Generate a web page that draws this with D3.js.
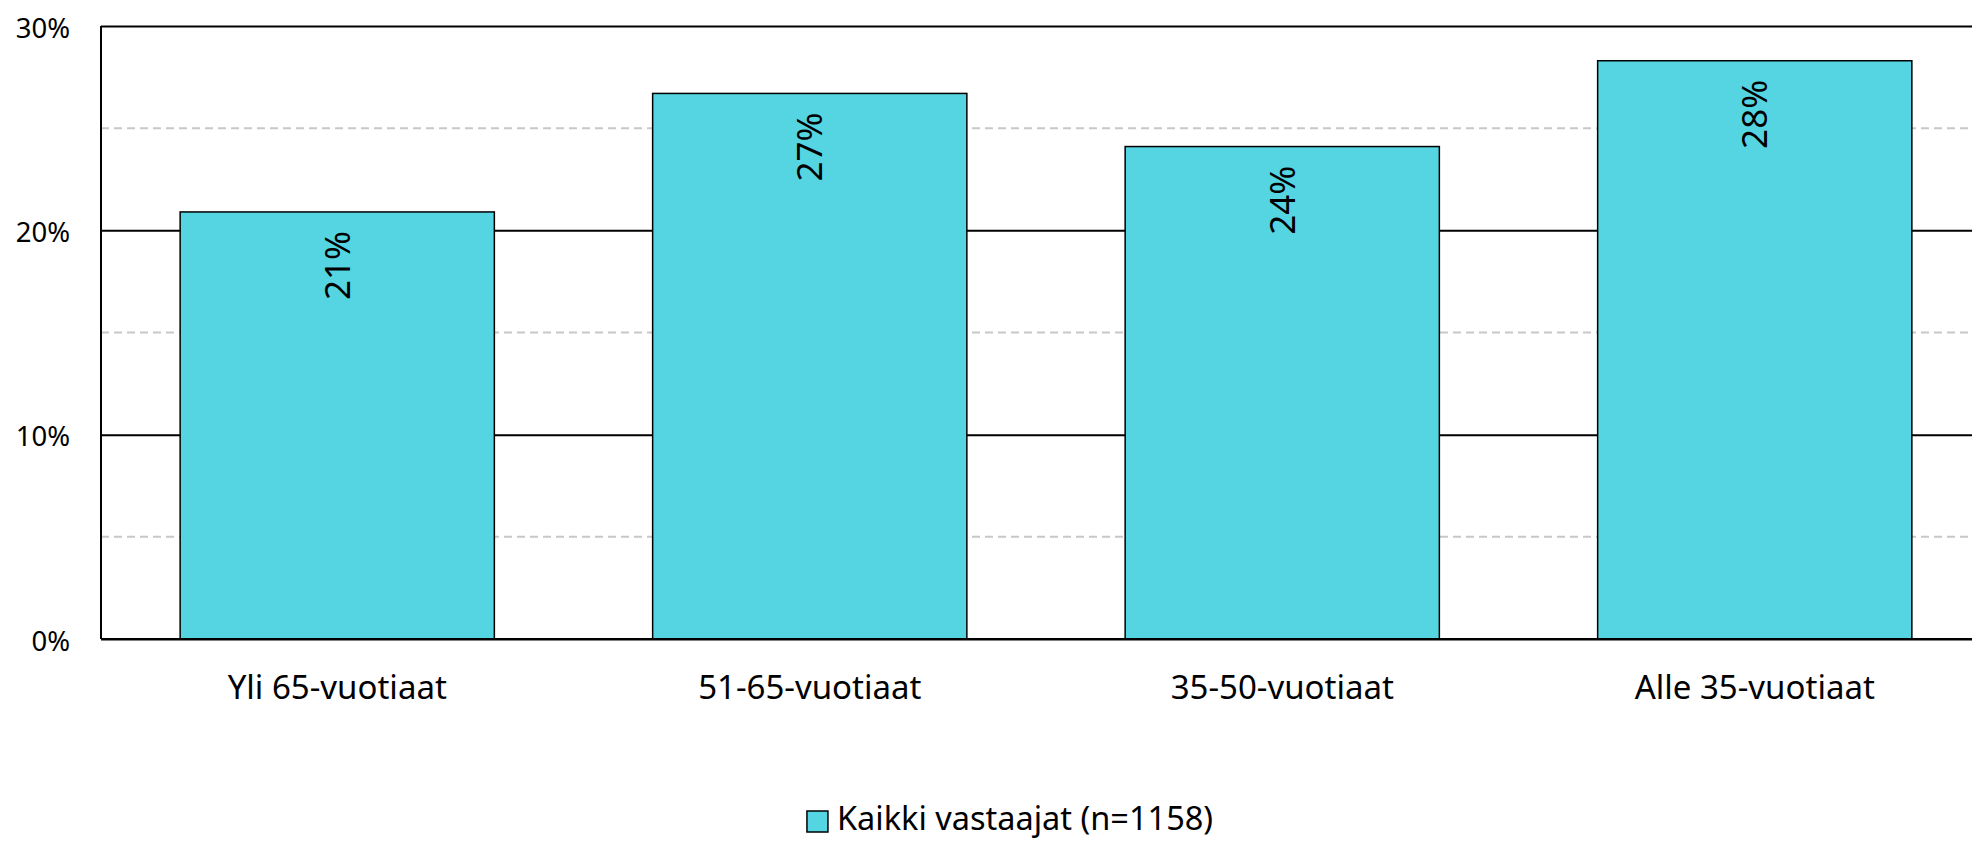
<!DOCTYPE html>
<html>
<head>
<meta charset="utf-8">
<script src="https://cdn.jsdelivr.net/npm/d3@7"></script>
<style>
  body { margin: 0; background: #fff; overflow: hidden; }
  text { font-family: "Noto Sans", "Open Sans", sans-serif; fill: #000; }
</style>
</head>
<body>
<div id="chart"></div>
<script>
// Data
var categories = ["Yli 65-vuotiaat", "51-65-vuotiaat", "35-50-vuotiaat", "Alle 35-vuotiaat"]
var values = [0.209, 0.267, 0.241, 0.283]
var valueLabels = ["21%", "27%", "24%", "28%"]
var majorTicks = [0, 0.1, 0.2, 0.3]
var minorTicks = [0.05, 0.15, 0.25]
var seriesName = "Kaikki vastaajat (n=1158)"

const width = 1972
const height = 842
const margin = { top: 26, left: 101 }
const plotRight = 1991
const plotBottom = 639

var svg = d3.select('#chart')
  .append('svg')
  .attr('width', width)
  .attr('height', height)

var x = d3.scaleBand()
  .domain(categories)
  .range([margin.left, plotRight])
  .paddingInner(0.335)
  .paddingOuter(0.1675)

var y = d3.scaleLinear()
  .domain([0, 0.3])
  .range([plotBottom, margin.top])

var barColor = '#55d5e2'

// dashed minor gridlines
svg.append('g')
  .selectAll('line')
  .data(minorTicks)
  .enter().append('line')
    .attr('x1', margin.left)
    .attr('x2', plotRight)
    .attr('y1', d => y(d))
    .attr('y2', d => y(d))
    .attr('stroke', '#c8c8c8')
    .attr('stroke-width', 2)
    .attr('stroke-dasharray', '8,5')

// solid major gridlines + y labels via axis
var yAxis = d3.axisLeft(y)
  .tickValues(majorTicks)
  .tickFormat(d3.format('.0%'))
  .tickSize(-(plotRight - margin.left))
  .tickPadding(31)

svg.append('g')
  .attr('transform', 'translate(' + margin.left + ',0)')
  .call(yAxis)
  .call(g => g.select('.domain').remove())
  .call(g => g.selectAll('.tick line').attr('stroke', '#000').attr('stroke-width', 2))
  .call(g => g.selectAll('.tick text')
    .attr('font-size', 27.5)
    .attr('font-family', '"Noto Sans", sans-serif')
    .attr('fill', '#000')
    .attr('dy', '0.4em'))

// left axis line
svg.append('line')
  .attr('x1', margin.left).attr('x2', margin.left)
  .attr('y1', y(0.3)).attr('y2', y(0))
  .attr('stroke', '#000')
  .attr('stroke-width', 2)

// bars
svg.append('g')
  .selectAll('rect')
  .data(values)
  .enter().append('rect')
    .attr('x', (d, i) => x(categories[i]))
    .attr('y', d => y(d))
    .attr('width', x.bandwidth())
    .attr('height', d => y(0) - y(d))
    .attr('fill', barColor)
    .attr('stroke', '#000')
    .attr('stroke-width', 1.5)

// baseline on top of bars
svg.append('line')
  .attr('x1', margin.left).attr('x2', plotRight)
  .attr('y1', y(0)).attr('y2', y(0))
  .attr('stroke', '#000')
  .attr('stroke-width', 2)

// rotated value labels at the top inside bars
svg.append('g')
  .selectAll('text')
  .data(values)
  .enter().append('text')
    .attr('transform', (d, i) => 'translate(' + (x(categories[i]) + x.bandwidth() / 2) + ',' + (y(d) + 19) + ') rotate(-90)')
    .attr('text-anchor', 'end')
    .attr('dy', '0.35em')
    .attr('font-size', 35)
    .text((d, i) => valueLabels[i])

// x category labels
var xAxis = d3.axisBottom(x).tickSize(0).tickPadding(37)
svg.append('g')
  .attr('transform', 'translate(0,' + plotBottom + ')')
  .call(xAxis)
  .call(g => g.select('.domain').remove())
  .call(g => g.selectAll('.tick text')
    .attr('font-size', 33)
    .attr('font-family', '"Noto Sans", sans-serif')
    .attr('fill', '#000'))

// legend
var legend = svg.append('g')
var legendText = legend.append('text')
  .attr('x', 30)
  .attr('y', 830)
  .attr('font-size', 32.5)
  .text(seriesName)
var tw = legendText.node().getComputedTextLength()
legend.append('rect')
  .attr('x', 0)
  .attr('y', 811)
  .attr('width', 21)
  .attr('height', 21)
  .attr('fill', barColor)
  .attr('stroke', '#000')
  .attr('stroke-width', 1.5)
legend.attr('transform', 'translate(' + (1010 - (30 + tw) / 2) + ',0)')
</script>
</body>
</html>
